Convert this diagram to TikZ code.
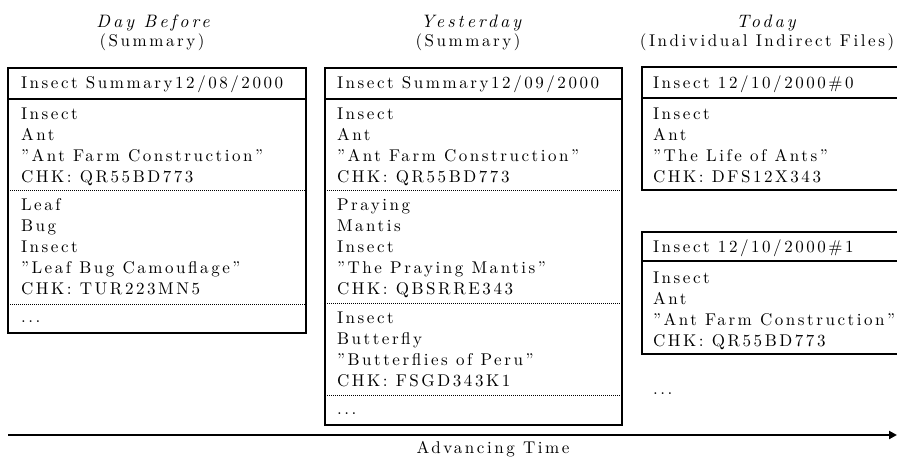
\documentclass[tikz,border=0pt]{standalone}
\usepackage{fontspec}
\setmainfont{lmroman10-regular.otf}[LetterSpace=15, ItalicFont=lmroman10-italic.otf, ItalicFeatures={LetterSpace=17}]
\usetikzlibrary{arrows.meta}
\newcommand{\rowsof}[1]{\begin{tabular}[t]{@{}l@{}}#1\end{tabular}}
\begin{document}
\begin{tikzpicture}[x=1pt,y=-1pt,
  font=\fontsize{17}{21}\selectfont,
  boxline/.style={line width=2pt},
  hsep/.style={line width=1.4pt},
  dsep/.style={line width=0.9pt, dash pattern=on 1pt off 1pt},
  txt/.style={anchor=base west, inner sep=0pt, outer sep=0pt},
  ttl/.style={anchor=base, inner sep=0pt, font=\fontsize{18}{21}\selectfont\itshape},
  sub/.style={anchor=base, inner sep=0pt},
  timearrow/.style={line width=2pt, -{Triangle[length=8pt,width=8pt]}}]
\useasboundingbox (0,0) rectangle (897,458);
\clip (0,0) rectangle (897,458);
\fill[white] (0,0) rectangle (897,458);

% titles
\node[ttl] (t1) at (153,27) {Day Before};
\node[sub] (s1) at (152,46) {(Summary)};
\node[ttl] (t2) at (471,27) {Yesterday};
\node[sub] (s2) at (468,46) {(Summary)};
\node[ttl] (t3) at (766,27) {Today};
\node[sub] (s3) at (767,46) {(Individual Indirect Files)};

% box 1
\draw[hsep] (8,99) -- (306,99);
\draw[dsep] (8,190) -- (306,190);
\draw[dsep] (8,304) -- (306,304);
\draw[boxline] (8,68) rectangle (306,333);
\node[txt] (b1h) at (21,88) {Insect Summary12/08/2000};
\node[txt] (b1a) at (21,119) {\rowsof{Insect\\Ant\\''Ant Farm Construction''\\CHK: QR55BD773}};
\node[txt] (b1b) at (21,210) {\rowsof{Leaf\\Bug\\Insect\\''Leaf Bug Camouflage''\\CHK: TUR223MN5}};
\node[txt] (b1c) at (21,322) {...};

% box 2
\draw[hsep] (325,99) -- (622,99);
\draw[dsep] (325,190) -- (622,190);
\draw[dsep] (325,303) -- (622,303);
\draw[dsep] (325,395) -- (622,395);
\draw[boxline] (325,68) rectangle (622,425);
\node[txt] (b2h) at (337,88) {Insect Summary12/09/2000};
\node[txt] (b2a) at (337,119) {\rowsof{Insect\\Ant\\''Ant Farm Construction''\\CHK: QR55BD773}};
\node[txt] (b2b) at (337,210) {\rowsof{Praying\\Mantis\\Insect\\''The Praying Mantis''\\CHK: QBSRRE343}};
\node[txt] (b2c) at (337,323) {\rowsof{Insect\\Butterfly\\''Butterflies of Peru''\\CHK: FSGD343K1}};
\node[txt] (b2d) at (337,414) {...};

% box 3
\draw[hsep] (642,98) -- (910,98);
\draw[boxline] (642,67) rectangle (910,190);
\node[txt] (b3h) at (653,88) {Insect 12/10/2000\#0};
\node[txt] (b3a) at (653,119) {\rowsof{Insect\\Ant\\''The Life of Ants''\\CHK: DFS12X343}};

% box 4
\draw[hsep] (642,261) -- (910,261);
\draw[boxline] (642,232) rectangle (910,354);
\node[txt] (b4h) at (653,252) {Insect 12/10/2000\#1};
\node[txt] (b4a) at (653,283) {\rowsof{Insect\\Ant\\''Ant Farm Construction''\\CHK: QR55BD773}};
\node[txt] (b4b) at (653,394) {...};

% time arrow
\coordinate (a0) at (8,435);
\coordinate (a1) at (897,435);
\draw[timearrow] (a0) -- (a1);
\node[sub] (tl) at (493,453) {Advancing Time};
\end{tikzpicture}
\end{document}
